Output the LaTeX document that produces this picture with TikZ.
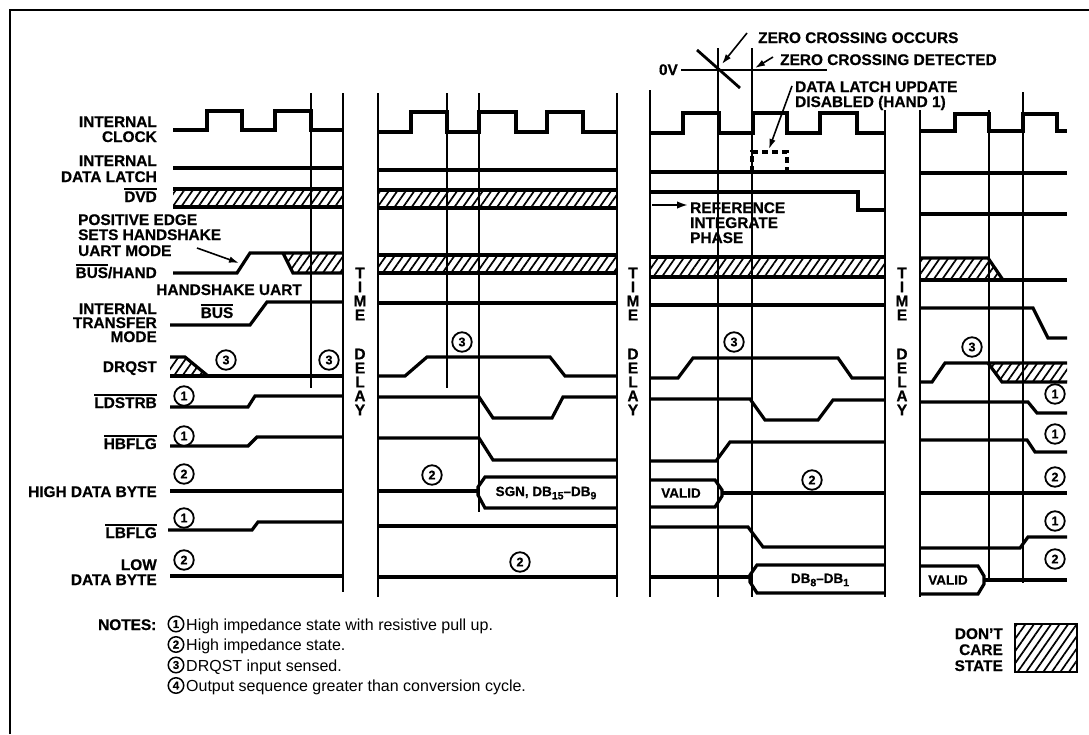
\documentclass[tikz,border=0pt]{standalone}
\usepackage{fontspec}
\setmainfont{Liberation Sans}[BoldFeatures={FakeBold=0.6}]
\newfontfamily\notefont{Liberation Sans}
\usetikzlibrary{arrows.meta,patterns.meta}
\newcommand{\lblfont}{\bfseries\fontsize{15.4}{15.4}\selectfont}
\newcommand{\boxfont}{\bfseries\fontsize{13.5}{14}\selectfont}
\newcommand{\ovl}[1]{\vbox{\hrule height 1.5pt\kern 1.6pt\hbox{#1}}}
\newcommand{\mysub}[1]{\raisebox{-0.45ex}{\fontsize{10.5}{11}\selectfont #1}}
\tikzset{
  sig/.style={line width=3.2pt},
  guide/.style={line width=1.4pt},
  lbl/.style={font=\lblfont, inner sep=0pt, anchor=base east},
  lbll/.style={font=\lblfont, inner sep=0pt, anchor=base west},
  lblc/.style={font=\lblfont, inner sep=0pt, anchor=base},
  num/.style={circle, draw, fill=white, line width=1.8pt, inner sep=0pt, minimum size=19.5pt, font=\bfseries\fontsize{12.5}{12.5}\selectfont},
  nnum/.style={circle, draw, line width=1.5pt, inner sep=0pt, minimum size=15.5pt, font=\bfseries\fontsize{11.5}{11.5}\selectfont},
  hatch/.style={pattern={Lines[angle=55,distance=7pt,line width=1.7pt]}},
  ann/.style={line width=1.6pt, -{Latex[length=10pt,width=6.5pt]}},
  boxtxt/.style={font=\boxfont, inner sep=0pt},
  note/.style={font=\notefont\fontsize{16}{16}\selectfont, inner sep=0pt, anchor=base west},
}
\begin{document}
\begin{tikzpicture}[x=1pt,y=-1pt]
\useasboundingbox (0,0) rectangle (1089,734);
% frame
\draw[line width=1.6pt] (10,734) -- (10,10) -- (1089,10);

% ---------- hatched areas ----------
\fill[hatch] (173,189) rectangle (343,207);
\fill[hatch] (378,190) rectangle (617,208);
\fill[hatch] (378,255) rectangle (617,273);
\fill[hatch] (650,257) rectangle (885,277);
\fill[hatch] (283,253) -- (343,253) -- (343,273) -- (293,273) -- cycle;
\fill[hatch] (170,357) -- (185,357) -- (208,376) -- (170,376) -- cycle;
\fill[hatch] (920,258) -- (988,258) -- (1003,280) -- (920,280) -- cycle;
\fill[hatch] (988,363) -- (1067,363) -- (1067,382) -- (1002,382) -- cycle;

% ---------- block 1 ----------
\draw[sig] (173,130) -- (207,130) -- (207,111) -- (242,111) -- (242,130) -- (275,130) -- (275,111) -- (311,111) -- (311,130) -- (343,130);
\draw[sig] (173,168) -- (343,168);
\draw[sig] (173,189) -- (343,189) (173,207) -- (343,207);
\draw[sig] (173,273) -- (237,273) -- (250,253) -- (343,253);
\draw[sig] (283,253) -- (293,273) -- (343,273);
\draw[sig] (170,325) -- (250,325) -- (267,302) -- (343,302);
\draw[sig] (170,357) -- (185,357) -- (208,376);
\draw[sig] (170,376) -- (343,376);
\draw[sig] (170,407) -- (248,407) -- (255,396) -- (343,396);
\draw[sig] (170,446) -- (248,446) -- (257,437) -- (343,437);
\draw[sig] (170,491) -- (343,491);
\draw[sig] (168,530) -- (252,530) -- (258,522) -- (343,522);
\draw[sig] (170,576) -- (343,576);

% ---------- block 2 ----------
\draw[sig] (378,132) -- (411,132) -- (411,112) -- (447,112) -- (447,132) -- (479,132) -- (479,112) -- (516,112) -- (516,132) -- (547,132) -- (547,112) -- (583,112) -- (583,132) -- (617,132);
\draw[sig] (378,170) -- (617,170);
\draw[sig] (378,190) -- (617,190) (378,208) -- (617,208);
\draw[sig] (378,255) -- (617,255) (378,273) -- (617,273);
\draw[sig] (378,303) -- (617,303);
\draw[sig] (378,376) -- (405,376) -- (427,357) -- (550,357) -- (565,376) -- (617,376);
\draw[sig] (378,397) -- (479,397) -- (493,418) -- (552,418) -- (563,397) -- (617,397);
\draw[sig] (378,438) -- (479,438) -- (493,460) -- (617,460);
\draw[sig] (378,491) -- (478,491);
\draw[sig] (617,477) -- (485,477) -- (478,487) -- (478,495) -- (485,508) -- (617,508);
\draw[sig] (378,526) -- (617,526);
\draw[sig] (378,577) -- (617,577);

% ---------- block 3 ----------
\draw[sig] (650,133) -- (683,133) -- (683,113) -- (719,113) -- (719,133) -- (753,133) -- (753,113) -- (787,113) -- (787,133) -- (820,133) -- (820,113) -- (857,113) -- (857,133) -- (885,133);
\draw[sig] (650,172) -- (885,172);
\draw[sig, dash pattern=on 6pt off 4pt] (752,172) -- (752,152) -- (787,152) -- (787,172);
\draw[sig] (650,192) -- (858,192) -- (858,210) -- (885,210);
\draw[sig] (650,257) -- (885,257) (650,277) -- (885,277);
\draw[sig] (650,305) -- (885,305);
\draw[sig] (650,378) -- (678,378) -- (693,358) -- (838,358) -- (852,378) -- (885,378);
\draw[sig] (650,399) -- (750,399) -- (765,420) -- (818,420) -- (833,400) -- (885,400);
\draw[sig] (650,461) -- (716,461) -- (730,442) -- (885,442);
\draw[sig] (650,480) -- (715,480) -- (722,490) -- (722,496) -- (715,507) -- (650,507);
\draw[sig] (722,493) -- (885,493);
\draw[sig] (650,527) -- (748,527) -- (763,547) -- (885,547);
\draw[sig] (650,577) -- (750,577);
\draw[sig] (885,565) -- (757,565) -- (750,575) -- (750,582) -- (757,593) -- (885,593);

% ---------- block 4 ----------
\draw[sig] (920,131) -- (955,131) -- (955,114) -- (989,114) -- (989,131) -- (1023,131) -- (1023,114) -- (1057,114) -- (1057,131) -- (1067,131);
\draw[sig] (920,173) -- (1067,173);
\draw[sig] (920,214) -- (1067,214);
\draw[sig] (920,258) -- (988,258) -- (1003,280);
\draw[sig] (920,280) -- (1067,280);
\draw[sig] (920,308) -- (1033,308) -- (1048,338) -- (1067,338);
\draw[sig] (920,382) -- (932,382) -- (945,363) -- (1067,363);
\draw[sig] (988,363) -- (1002,382) -- (1067,382);
\draw[sig] (920,402) -- (1028,402) -- (1037,413) -- (1067,413);
\draw[sig] (920,440) -- (1027,440) -- (1035,452) -- (1067,452);
\draw[sig] (920,493) -- (1067,493);
\draw[sig] (920,548) -- (1020,548) -- (1028,537) -- (1067,537);
\draw[sig] (920,566) -- (978,566) -- (984,576) -- (984,584) -- (978,594) -- (920,594);
\draw[sig] (984,580) -- (1067,580);

% ---------- guide lines ----------
\draw[guide] (311,93) -- (311,388);
\draw[guide] (343,93) -- (343,592);
\draw[guide] (378,93) -- (378,597);
\draw[guide] (447,93) -- (447,388);
\draw[guide] (479,93) -- (479,512);
\draw[guide] (617,93) -- (617,597);
\draw[guide] (650,90) -- (650,597);
\draw[guide] (718,48) -- (718,597);
\draw[guide] (752,48) -- (752,597);
\draw[guide] (885,110) -- (885,597);
\draw[guide] (920,110) -- (920,597);
\draw[guide] (989,110) -- (989,578);
\draw[guide] (1023,92) -- (1023,583);

% ---------- zero crossing annotation ----------
\node[lbl] (zv) at (678,75) {0V};
\coordinate (zvL) at (681,70);
\coordinate (zvR) at (827,70);
\draw[guide] (zvL) -- (zvR);
\draw[line width=2.8pt] (697,50) -- (740,88);
\node[lbll] (zco) at (758,43) {ZERO CROSSING OCCURS};
\node[lbll] (zcd) at (780,65) {ZERO CROSSING DETECTED};
\node[lbll] (dlu1) at (795,92) {DATA LATCH UPDATE};
\node[lbll] (dlu2) at (795,107) {DISABLED (HAND 1)};
\coordinate (zcoS) at (747,33);
\coordinate (zcoT) at (722,64);
\coordinate (zcdS) at (773,57);
\coordinate (zcdT) at (755,68);
\coordinate (dluS) at (792,86);
\coordinate (dluT) at (769,149);
\draw[ann] (zcoS) -- (zcoT);
\draw[ann] (zcdS) -- (zcdT);
\draw[ann] (dluS) -- (dluT);

% reference integrate phase
\coordinate (refS) at (652,205);
\coordinate (refT) at (688,205);
\draw[line width=2pt, -{Latex[length=11pt,width=7.5pt]}] (refS) -- (refT);
\node[lbll] (ref1) at (690,213) {REFERENCE};
\node[lbll] (ref2) at (690,228) {INTEGRATE};
\node[lbll] (ref3) at (690,243) {PHASE};

% ---------- signal labels ----------
\node[lbl] (lclk1) at (157,127) {INTERNAL};
\node[lbl] (lclk2) at (157,142) {CLOCK};
\node[lbl] (llat1) at (157,166) {INTERNAL};
\node[lbl] (llat2) at (157,182) {DATA LATCH};
\node[lbl] (ldvd) at (157,202) {\ovl{DVD}};
\node[lbll] (lpos1) at (78,225) {POSITIVE EDGE};
\node[lbll] (lpos2) at (78,240) {SETS HANDSHAKE};
\node[lbll] (lpos3) at (78,256) {UART MODE};
\coordinate (posS) at (197,248);
\coordinate (posT) at (239,263);
\draw[ann] (posS) -- (posT);
\node[lbl] (lbh) at (157,278) {\ovl{BUS}/HAND};
\node[lbl] (lhs) at (302,295) {HANDSHAKE UART};
\node[lblc] (lbus2) at (217,318) {\ovl{BUS}};
\node[lbl] (ltr1) at (157,314) {INTERNAL};
\node[lbl] (ltr2) at (157,328) {TRANSFER};
\node[lbl] (ltr3) at (157,342) {MODE};
\node[lbl] (ldrq) at (157,372) {DRQST};
\node[lbl] (lld) at (157,408) {\ovl{LDSTRB}};
\node[lbl] (lhb) at (157,449) {\ovl{HBFLG}};
\node[lbl] (lhd) at (157,497) {HIGH DATA BYTE};
\node[lbl] (llb) at (157,538) {\ovl{LBFLG}};
\node[lbl] (llo1) at (157,570) {LOW};
\node[lbl] (llo2) at (157,585) {DATA BYTE};

% ---------- box texts ----------
\node[boxtxt] (sgn) at (546,493) {SGN, DB\mysub{15}--DB\mysub{9}};
\node[boxtxt] (val1) at (681,493) {VALID};
\node[boxtxt] (db) at (820,580) {DB\mysub{8}--DB\mysub{1}};
\node[boxtxt] (val2) at (948,580) {VALID};

% ---------- TIME DELAY ----------
\foreach \gx in {360,633,902}{
  \foreach \ch/\yy in {T/273,I/287,M/301,E/315,D/354,E/368,L/382,A/396,Y/410}{
    \node[font=\lblfont, inner sep=0pt] (td-\gx-\yy) at (\gx,\yy) {\ch};
  }
}

% ---------- circled numbers ----------
\node[num] (c1a) at (226,360) {3};
\node[num] (c1b) at (329,360) {3};
\node[num] (c1c) at (184,396) {1};
\node[num] (c1d) at (184,436) {1};
\node[num] (c1e) at (184,474) {2};
\node[num] (c1f) at (184,518) {1};
\node[num] (c1g) at (184,560) {2};
\node[num] (c2a) at (462,342) {3};
\node[num] (c2b) at (432,475) {2};
\node[num] (c2c) at (520,562) {2};
\node[num] (c3a) at (734,342) {3};
\node[num] (c3b) at (812,480) {2};
\node[num] (c4a) at (972,347) {3};
\node[num] (c4b) at (1055,394) {1};
\node[num] (c4c) at (1055,434) {1};
\node[num] (c4d) at (1055,477) {2};
\node[num] (c4e) at (1055,521) {1};
\node[num] (c4f) at (1055,559) {2};

% ---------- notes ----------
\node[lbll] (notes) at (98,630) {NOTES:};
\node[nnum] (n1) at (176,624) {1};
\node[nnum] (n2) at (176,644.5) {2};
\node[nnum] (n3) at (176,665) {3};
\node[nnum] (n4) at (176,685.5) {4};
\node[note] (t1) at (186,630) {High impedance state with resistive pull up.};
\node[note] (t2) at (186,650.5) {High impedance state.};
\node[note] (t3) at (186,671) {DRQST input sensed.};
\node[note] (t4) at (186,691.5) {Output sequence greater than conversion cycle.};

% ---------- legend ----------
\node[lbl] (dc1) at (1003,639) {DON'T};
\node[lbl] (dc2) at (1003,655) {CARE};
\node[lbl] (dc3) at (1003,671) {STATE};
\fill[hatch] (1015,624) rectangle (1077,672);
\draw[line width=2.2pt] (1015,624) rectangle (1077,672);
\end{tikzpicture}
\end{document}
